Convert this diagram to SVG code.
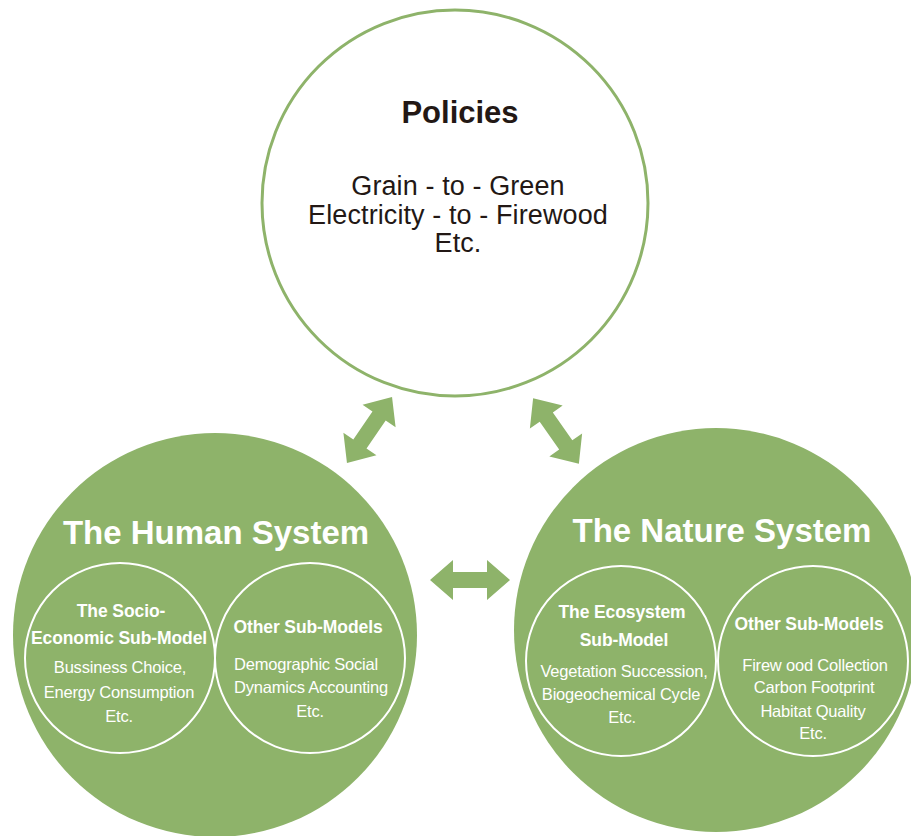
<svg xmlns="http://www.w3.org/2000/svg" width="911" height="836" viewBox="0 0 911 836">
<style>
.big{fill:#8eb36a}
.sub{fill:none;stroke:#ffffff;stroke-width:2}
.t{font-family:"Liberation Sans",Arial,sans-serif;text-anchor:middle}
.ttl{font-size:33px;font-weight:bold;fill:#ffffff}
.sh{font-size:17.5px;font-weight:bold;fill:#ffffff;letter-spacing:-0.1px}
.sb{font-size:16.5px;fill:#ffffff;letter-spacing:-0.2px}
.pt{font-size:31px;font-weight:bold;fill:#231815}
.pb{font-size:27px;fill:#231815;letter-spacing:0.1px}
.arr{fill:#8eb36a}
</style>
<defs>
<polygon id="dbl" points="-40,0 -17,-20 -17,-8 17,-8 17,-20 40,0 17,20 17,8 -17,8 -17,20"/>
</defs>
<rect width="911" height="836" fill="#ffffff"/>
<g id="policies">
<circle cx="455" cy="203" r="193" fill="#ffffff" stroke="#8eb36a" stroke-width="3"/>
<text class="t pt" x="460" y="123">Policies</text>
<text class="t pb" x="458" y="195">Grain - to - Green</text>
<text class="t pb" x="458" y="224">Electricity - to - Firewood</text>
<text class="t pb" x="458" y="252">Etc.</text>
</g>
<g id="human-system">
<circle class="big" cx="215" cy="635" r="202"/>
<text class="t ttl" x="216" y="544">The Human System</text>
</g>
<g id="socio-economic">
<circle class="sub" cx="120" cy="658" r="95"/>
<text class="t sh" x="121" y="617">The Socio-</text>
<text class="t sh" x="119" y="644">Economic Sub-Model</text>
<text class="t sb" x="120" y="673">Bussiness Choice,</text>
<text class="t sb" x="119" y="698">Energy Consumption</text>
<text class="t sb" x="119" y="722">Etc.</text>
</g>
<g id="human-other">
<circle class="sub" cx="310" cy="658" r="95"/>
<text class="t sh" x="308" y="633">Other Sub-Models</text>
<text class="t sb" x="306" y="670">Demographic Social</text>
<text class="t sb" x="311" y="693">Dynamics Accounting</text>
<text class="t sb" x="310" y="717">Etc.</text>
</g>
<g id="nature-system">
<circle class="big" cx="716" cy="630" r="202"/>
<text class="t ttl" x="722" y="542">The Nature System</text>
</g>
<g id="ecosystem">
<circle class="sub" cx="621" cy="661" r="95"/>
<text class="t sh" x="622" y="618">The Ecosystem</text>
<text class="t sh" x="624" y="646">Sub-Model</text>
<text class="t sb" x="624" y="677">Vegetation Succession,</text>
<text class="t sb" x="621" y="700">Biogeochemical Cycle</text>
<text class="t sb" x="622" y="723">Etc.</text>
</g>
<g id="nature-other">
<circle class="sub" cx="813" cy="661" r="95"/>
<text class="t sh" x="809" y="630">Other Sub-Models</text>
<text class="t sb" x="815" y="671">Firew ood Collection</text>
<text class="t sb" x="814" y="693">Carbon Footprint</text>
<text class="t sb" x="813" y="717">Habitat Quality</text>
<text class="t sb" x="813" y="739">Etc.</text>
</g>
<g id="connectors">
<use href="#dbl" class="arr" transform="translate(369.5,430) rotate(-55.7)"/>
<use href="#dbl" class="arr" transform="translate(556,431) rotate(55.1)"/>
<use href="#dbl" class="arr" transform="translate(470,580)"/>
</g>
</svg>
